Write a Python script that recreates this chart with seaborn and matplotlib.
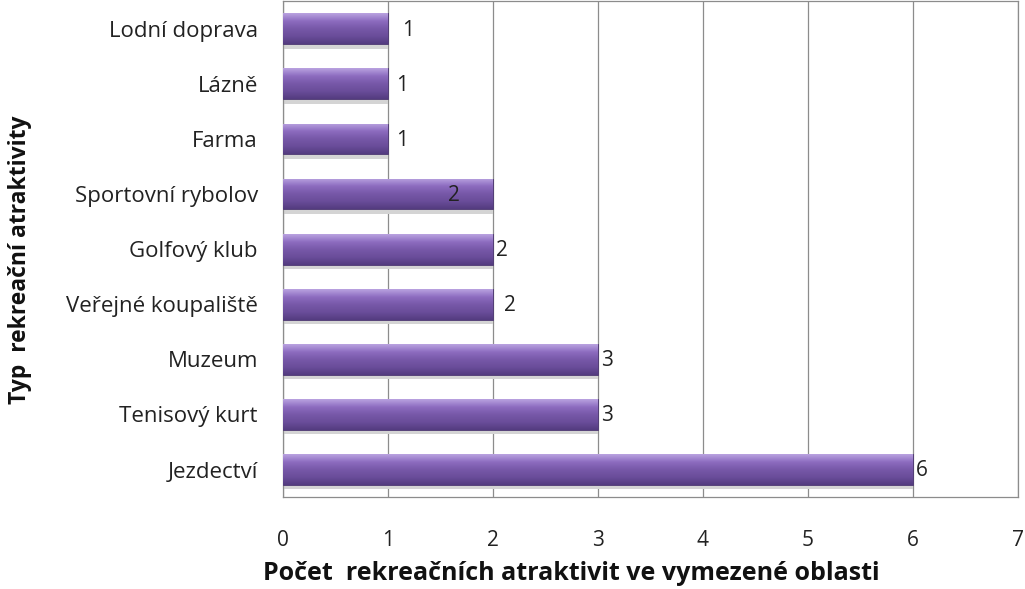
import numpy as np
import pandas as pd
import matplotlib
matplotlib.use("Agg")
import matplotlib.pyplot as plt
import seaborn as sns
from matplotlib.colors import LinearSegmentedColormap

categories = [
    "Lodní doprava",
    "Lázně",
    "Farma",
    "Sportovní rybolov",
    "Golfový klub",
    "Veřejné koupaliště",
    "Muzeum",
    "Tenisový kurt",
    "Jezdectví",
]
counts = [1, 1, 1, 2, 2, 2, 3, 3, 6]
x_ticks = [0, 1, 2, 3, 4, 5, 6, 7]

# label nudges in points (the source chart places them a bit unevenly)
label_dx = [10, 6, 6, -32, 2, 8, 2, 2, 2]
label_dy = [-1, -1, -1, -1, -1, -1, -1, -1, -1]

sns.set_theme(style="white")
plt.rcParams["font.family"] = ["Open Sans", "DejaVu Sans"]

df = pd.DataFrame({"typ": categories, "pocet": counts})

fig = plt.figure(figsize=(10.25, 5.89), dpi=100)
ax = fig.add_axes([0.276, 0.156, 0.717, 0.842])

sns.barplot(data=df, y="typ", x="pocet", orient="h", color="#7a5aa8",
            width=0.56, ax=ax, zorder=3)

grad = LinearSegmentedColormap.from_list(
    "bar", ["#b9a2e0", "#8d6cc0", "#7758a8", "#6a4d9a", "#543c80"])
img = np.linspace(0, 1, 64).reshape(-1, 1)
for patch in ax.patches:
    x0, y0 = patch.get_x(), patch.get_y()
    w, h = patch.get_width(), patch.get_height()
    # soft shadow under bar
    ax.fill_between([x0, x0 + w], y0 + h, y0 + h + 0.08, color="#d4d4d4",
                    zorder=2, linewidth=0)
    im = ax.imshow(img, cmap=grad, aspect="auto",
                   extent=(x0, x0 + w, y0 + h, y0), zorder=4)
    im.set_clip_path(patch)
    patch.set_edgecolor("#4a3570")
    patch.set_linewidth(0.6)

for i, v in enumerate(counts):
    ax.annotate(str(v), (v, i), xytext=(label_dx[i], label_dy[i]),
                textcoords="offset points", ha="left", va="center",
                fontsize=15, color="#222222", zorder=5)

ax.set_xlim(0, 7)
ax.set_ylim(len(categories) - 0.5, -0.5)
ax.set_xticks(x_ticks)
ax.set_xticklabels([str(t) for t in x_ticks], fontsize=15)
ax.tick_params(axis="x", pad=24, length=0, colors="#222222")
ax.tick_params(axis="y", labelsize=16, pad=18, length=0, colors="#222222")
ax.grid(axis="x", color="#8c8c8c", linewidth=0.9, zorder=0)
for s in ax.spines.values():
    s.set_color("#8c8c8c")
    s.set_linewidth(0.9)

ax.set_xlabel("Počet  rekreačních atraktivit ve vymezené oblasti",
              fontsize=18, fontweight="bold", color="#111111")
ax.xaxis.set_label_coords(0.393, -0.128)
ax.set_ylabel("Typ  rekreační atraktivity", fontsize=16.5, fontweight="bold",
              color="#111111")
ax.yaxis.set_label_coords(-0.342, 0.478)

fig.savefig("out.png", dpi=100)
